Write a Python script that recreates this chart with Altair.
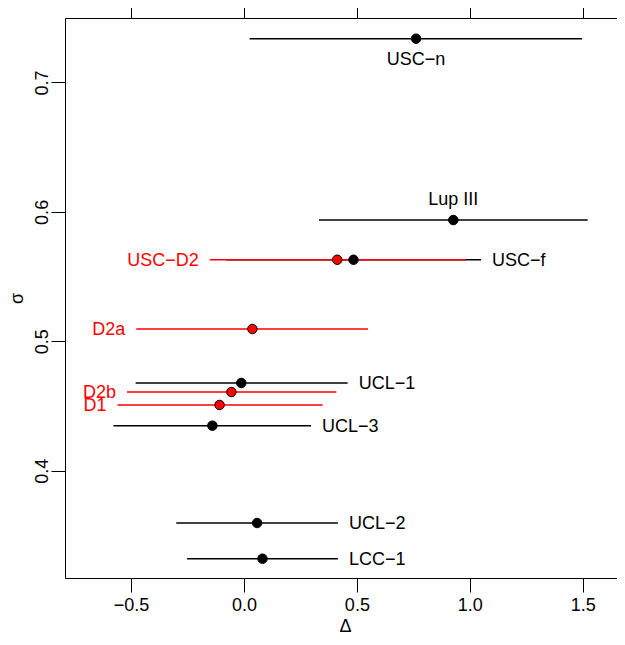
import altair as alt
import pandas as pd

# ---- data ----
names = ["USC−n", "Lup III", "USC−f", "USC−D2", "D2a", "UCL−1", "D2b", "D1", "UCL−3", "UCL−2", "LCC−1"]
delta = [0.762, 0.927, 0.485, 0.413, 0.037, -0.012, -0.056, -0.108, -0.140, 0.058, 0.082]
delta_lo = [0.025, 0.332, -0.080, -0.152, -0.477, -0.480, -0.518, -0.560, -0.578, -0.300, -0.252]
delta_hi = [1.497, 1.522, 1.050, 0.980, 0.549, 0.459, 0.409, 0.348, 0.297, 0.416, 0.416]
sigma = [0.7338, 0.5937, 0.563, 0.563, 0.5095, 0.4678, 0.4608, 0.4508, 0.4348, 0.3596, 0.332]
group = ["other", "other", "other", "new", "new", "other", "new", "new", "other", "other", "other"]
label_side = ["below", "above", "right", "left", "left", "right", "left", "left", "right", "right", "right"]
x_ticks = [-0.5, 0.0, 0.5, 1.0, 1.5]
y_ticks = [0.4, 0.5, 0.6, 0.7]

df = pd.DataFrame({
    "name": names, "delta": delta, "lo": delta_lo, "hi": delta_hi,
    "sigma": sigma, "group": group, "side": label_side,
})

FONT = "Liberation Sans"
FS = 18
W, H = 552, 560
xscale = alt.Scale(domain=[-0.7927, 1.652], nice=False, zero=False)
yscale = alt.Scale(domain=[0.3171, 0.7498], nice=False, zero=False)
color = alt.Color("group:N", scale=alt.Scale(domain=["other", "new"], range=["#000000", "#FF0000"]), legend=None)

base = alt.Chart(df)

bottom_axis = alt.Axis(values=x_ticks, format=".1f", title="Δ", grid=False,
                       tickSize=14, labelPadding=4, domainColor="black", tickColor="black",
                       labelColor="black", labelFont=FONT, labelFontSize=FS,
                       titleFont=FONT, titleFontSize=FS, titleFontWeight="normal", titleColor="black",
                       titleX=280, titleY=48, titleBaseline="middle", titleAlign="center")
top_axis = alt.Axis(values=x_ticks, orient="top", labels=False, title=None, grid=False,
                    tickSize=14, domainColor="black", tickColor="black")
left_axis = alt.Axis(values=y_ticks, format=".1f", title="σ", grid=False, orient="left",
                     tickSize=14, labelPadding=4, labelAngle=270, labelAlign="center",
                     labelBaseline="alphabetic",
                     domainColor="black", tickColor="black", labelColor="black",
                     labelFont=FONT, labelFontSize=FS,
                     titleFont=FONT, titleFontSize=FS, titleFontWeight="normal", titleColor="black",
                     titleX=-48, titleY=280, titleAngle=270, titleBaseline="middle", titleAlign="center")

rules_black = base.transform_filter(alt.datum.group == "other").mark_rule(strokeWidth=1.5).encode(
    x=alt.X("lo:Q", scale=xscale, axis=bottom_axis),
    x2="hi:Q",
    y=alt.Y("sigma:Q", scale=yscale, axis=left_axis),
    color=color,
)
rules_red = base.transform_filter(alt.datum.group == "new").mark_rule(strokeWidth=1.5).encode(
    x=alt.X("lo:Q", scale=xscale, axis=top_axis),
    x2="hi:Q",
    y=alt.Y("sigma:Q", scale=yscale, axis=None),
    color=color,
)
points = base.mark_circle(size=90, opacity=1, stroke="black", strokeWidth=1).encode(
    x=alt.X("delta:Q", scale=xscale, axis=None),
    y=alt.Y("sigma:Q", scale=yscale, axis=None),
    color=color,
)

def labels(side, align, dx, dy, xfield):
    return base.transform_filter(alt.datum.side == side).mark_text(
        align=align, baseline="middle", dx=dx, dy=dy, font=FONT, fontSize=FS
    ).encode(
        x=alt.X(f"{xfield}:Q", scale=xscale, axis=None),
        y=alt.Y("sigma:Q", scale=yscale, axis=None),
        text="name:N",
        color=color,
    )

chart = alt.layer(
    rules_black, rules_red, points,
    labels("right", "left", 11, 1, "hi"),
    labels("left", "right", -11, 1, "lo"),
    labels("below", "center", 0, 21, "delta"),
    labels("above", "center", 0, -20, "delta"),
).resolve_axis(x="independent", y="independent").properties(
    width=W, height=H, autosize="none",
    padding={"left": 57, "top": 10, "right": 0, "bottom": 56},
).configure_view(stroke=None).configure(background="white")

chart.save("out.html", embed_options={"renderer": "svg", "actions": False})
